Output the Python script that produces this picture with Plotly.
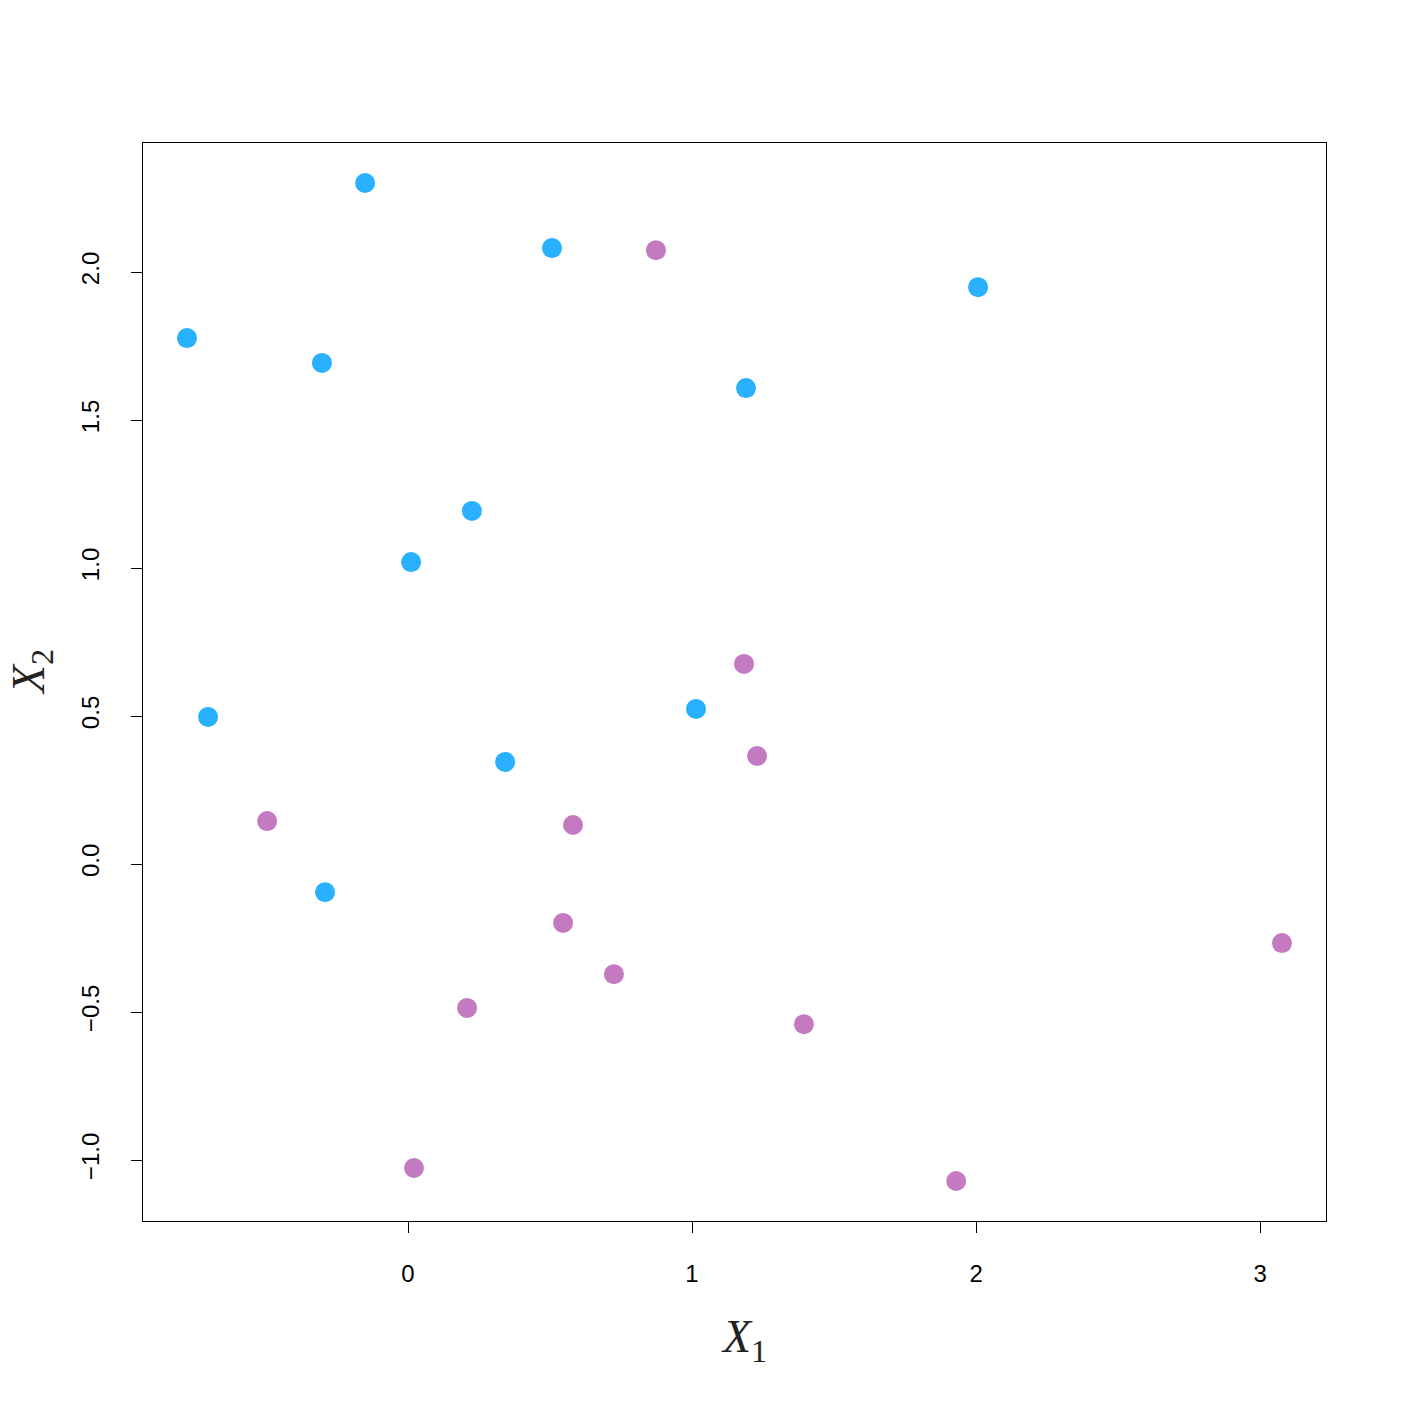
import plotly.graph_objects as go

blue_x = [-0.151, 0.507, -0.778, -0.303, 2.007, 1.190, 0.225, 0.011, -0.704, 1.014, 0.342, -0.292]
blue_y = [2.301, 2.081, 1.777, 1.693, 1.949, 1.608, 1.193, 1.020, 0.497, 0.524, 0.345, -0.095]
purple_x = [0.873, 1.183, 1.229, -0.496, 0.581, 0.546, 0.725, 0.208, 1.394, 3.077, 0.021, 1.930]
purple_y = [2.074, 0.676, 0.365, 0.145, 0.132, -0.199, -0.372, -0.486, -0.541, -0.267, -1.027, -1.071]

x_ticks = [0, 1, 2, 3]
y_ticks = [-1.0, -0.5, 0.0, 0.5, 1.0, 1.5, 2.0]
y_tick_text = ["\u22121.0", "\u22120.5", "0.0", "0.5", "1.0", "1.5", "2.0"]

fig = go.Figure()
fig.add_trace(go.Scatter(x=blue_x, y=blue_y, mode="markers",
                         marker=dict(color="#29B0FF", size=20, line=dict(width=0)),
                         showlegend=False))
fig.add_trace(go.Scatter(x=purple_x, y=purple_y, mode="markers",
                         marker=dict(color="#C47AC0", size=20, line=dict(width=0)),
                         showlegend=False))

axis_common = dict(showline=True, linecolor="black", linewidth=1.3, mirror=True,
                   ticks="outside", ticklen=11, tickwidth=1.3, tickcolor="black",
                   showgrid=False, zeroline=False,
                   tickfont=dict(family="Liberation Sans, Arial, sans-serif", size=24, color="black"))

fig.update_xaxes(range=[-0.933, 3.232], tickvals=x_ticks, ticktext=[str(t) for t in x_ticks],
                 ticklabelstandoff=20, **axis_common)
fig.update_yaxes(range=[-1.206, 2.436], tickvals=y_ticks, ticktext=y_tick_text,
                 tickangle=-90, ticklabelstandoff=22, **axis_common)

fig.add_annotation(x=0.508, y=-0.11, xref="paper", yref="paper", showarrow=False,
                   text="<i>X</i><sub>1</sub>", xanchor="center", yanchor="middle",
                   font=dict(family="Liberation Serif, DejaVu Serif, serif", size=46, color="#222"))
fig.add_annotation(x=-0.094, y=0.509, xref="paper", yref="paper", showarrow=False,
                   text="<i>X</i><sub>2</sub>", textangle=-90, xanchor="center", yanchor="middle",
                   font=dict(family="Liberation Serif, DejaVu Serif, serif", size=46, color="#222"))

fig.update_layout(width=1403, height=1403, plot_bgcolor="white", paper_bgcolor="white",
                  margin=dict(l=135, r=85, t=135, b=190))

fig.write_html("out.html")
